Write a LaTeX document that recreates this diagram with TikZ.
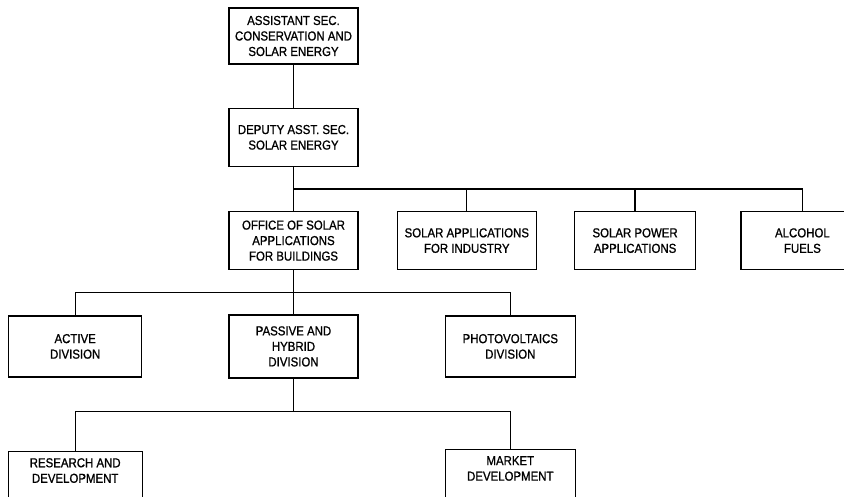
\documentclass[tikz,border=0pt]{standalone}
\usepackage{fontspec}
\setmainfont{Liberation Sans}[FakeStretch=0.88,FakeBold=1]
\usepackage{tikz}
\usetikzlibrary{positioning,calc}
\tikzset{
  basebox/.style={rectangle,draw=black,line width=1.3pt,align=center,font=\fontsize{13}{15.5}\selectfont},
  headbox/.style={basebox,minimum width=129pt,minimum height=56pt},
  officebox/.style={basebox,minimum height=58pt},
  divbox/.style={basebox,minimum height=61pt},
  branchbox/.style={basebox,inner ysep=7pt,text depth=48pt},
  link/.style={line width=1.3pt,color=black}
}

\begin{document}
\begin{tikzpicture}[x=1pt,y=-1pt]
  \useasboundingbox (0,0) rectangle (844,496);
  \node[headbox] (asst) at (293.5,36) {ASSISTANT SEC.\\CONSERVATION AND\\SOLAR ENERGY};
  \node[headbox,below=43pt of asst,minimum height=58pt] (dep) {DEPUTY ASST. SEC.\\SOLAR ENERGY};
  \node[officebox,below=44pt of dep,minimum width=129pt] (osab) {OFFICE OF SOLAR\\APPLICATIONS\\FOR BUILDINGS};
  \node[officebox,right=38pt of osab,minimum width=139pt] (ind) {SOLAR APPLICATIONS\\FOR INDUSTRY};
  \node[officebox,right=37pt of ind,minimum width=121pt] (pow) {SOLAR POWER\\APPLICATIONS};
  \node[officebox,right=44pt of pow,minimum width=123pt] (alc) {ALCOHOL\\FUELS};
  \node[divbox,below=44pt of osab,minimum width=129pt,minimum height=63pt] (pas) {PASSIVE AND\\HYBRID\\DIVISION};
  \node[divbox,left=86pt of pas,minimum width=133pt] (act) {ACTIVE\\DIVISION};
  \node[divbox,right=86pt of pas,minimum width=130pt] (pv) {PHOTOVOLTAICS\\DIVISION};
  \node[branchbox,below=73pt of act,minimum width=134pt] (rnd) {RESEARCH AND\\DEVELOPMENT};
  \node[branchbox,below=71pt of pv,minimum width=130pt] (mkt) {MARKET\\DEVELOPMENT};
  \coordinate (bus1) at ($(dep.south)!0.5!(osab.north)$);
  \coordinate (bus2) at ($(osab.south)!0.5!(pas.north)$);
  \coordinate (bus3) at ($(pas.south)+(0,33)$);
  \draw[link] (asst) -- (dep); \draw[link] (dep) -- (osab);
  \draw[link] (bus1) -| (ind.north); \draw[link] (bus1) -| (pow.north); \draw[link] (bus1) -| (alc.north);
  \draw[link] (osab) -- (pas);
  \draw[link] (bus2) -| (act.north); \draw[link] (bus2) -| (pv.north);
  \draw[link] (pas.south) -- (bus3);
  \draw[link] (bus3) -| (rnd.north); \draw[link] (bus3) -| (mkt.north);
\end{tikzpicture}
\end{document}
